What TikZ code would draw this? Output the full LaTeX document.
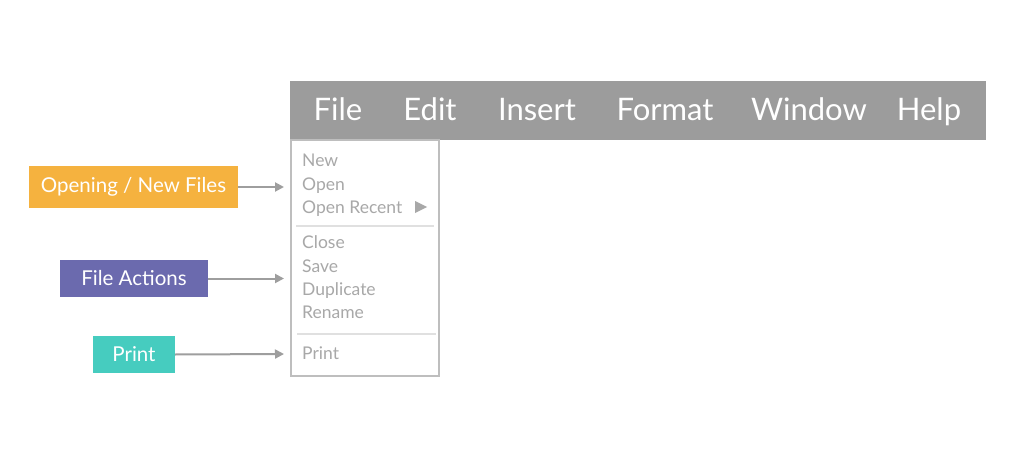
\documentclass[tikz,border=0pt]{standalone}
\usepackage{fontspec}
\setmainfont{Lato}
\usetikzlibrary{arrows.meta}
\definecolor{barGray}{HTML}{9C9C9C}
\definecolor{itemGray}{HTML}{A8A8A8}
\definecolor{frameGray}{HTML}{BEBEBE}
\definecolor{sepGray}{HTML}{E0E0E0}
\definecolor{arrowGray}{HTML}{9E9E9E}
\definecolor{tagOrange}{HTML}{F5B23F}
\definecolor{tagPurple}{HTML}{6B6AAE}
\definecolor{tagTeal}{HTML}{46CCBF}

\begin{document}
\begin{tikzpicture}[x=1pt,y=-1pt,
	barItem/.style={anchor=base,text=white,font=\fontsize{31}{31}\selectfont,inner sep=0pt},
	menuItem/.style={anchor=base west,text=itemGray,font=\fontsize{17.5}{17.5}\selectfont,inner sep=0pt},
	tag/.style={text=white,font=\fontsize{20.5}{20.5}\selectfont,inner sep=0pt,minimum height=37pt},
	pointer/.style={arrowGray,line width=2pt,-{Triangle[length=9pt,width=9pt]}}]
			\useasboundingbox[fill=white] (0,0) rectangle (1018,460);

			% menu bar
			\fill[barGray] (290,81) rectangle (986,140);
			\node[barItem] (file) at (338,121){File};
			\node[barItem] (edit) at (430,121){Edit};
			\node[barItem] (insert) at (537,121){Insert};
			\node[barItem] (format) at (665,121){Format};
			\node[barItem] (window) at (809,121){Window};
			\node[barItem] (help) at (929,121){Help};

			% dropdown
			\draw[frameGray,line width=1.5pt] (291,140) rectangle (439,376);
			\draw[sepGray,line width=1.2pt] (296,226) -- (434,226);
			\draw[sepGray,line width=1.2pt] (297,334) -- (436,334);
			\node[menuItem] (new) at (302,166){New};
			\node[menuItem] (open) at (302,190){Open};
			\node[menuItem] (recent) at (302,213){Open Recent};
			\fill[itemGray] (415,201) -- (427,207) -- (415,213) -- cycle;
			\node[menuItem] (close) at (302,248){Close};
			\node[menuItem] (save) at (302,272){Save};
			\node[menuItem] (duplicate) at (302,295){Duplicate};
			\node[menuItem] (rename) at (302,318){Rename};
			\node[menuItem] (print) at (302,359){Print};

			% tags
			\node[tag,fill=tagOrange,minimum width=209pt,minimum height=42pt] (opening) at (133.5,187){Opening / New Files};
			\node[tag,fill=tagPurple,minimum width=148pt] (actions) at (134,278.5){File Actions};
			\node[tag,fill=tagTeal,minimum width=82pt] (printtag) at (134,354.5){Print};

			\coordinate (toOpening) at (284,187);
			\coordinate (toActions) at (284,278.5);
			\coordinate (toPrint) at (284,354);
			\draw[pointer] (opening.east) -- (toOpening);
			\draw[pointer] (actions.east) -- (toActions);
			\draw[pointer] (printtag.east) -- (toPrint);
		\end{tikzpicture}
\end{document}
